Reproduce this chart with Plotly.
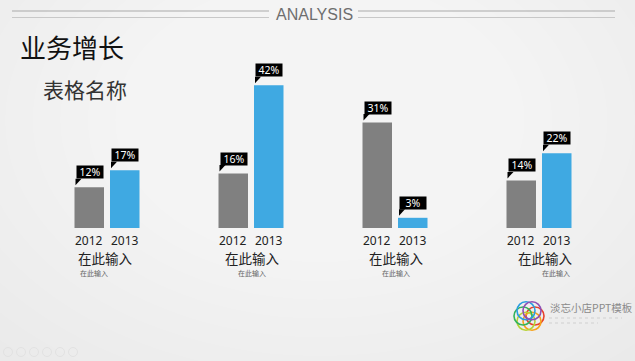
import plotly.graph_objects as go
import math

# ---------------- data ----------------
years = ["2012", "2013"]
values_2012 = [12, 16, 31, 14]
values_2013 = [17, 42, 3, 22]
group_titles = ["在此输入", "在此输入", "在此输入", "在此输入"]
group_subtitles = ["在此输入", "在此输入", "在此输入", "在此输入"]
title_main = "业务增长"
title_sub = "表格名称"
header_text = "ANALYSIS"
logo_text = "淡忘小店PPT模板"

# ---------------- layout helpers ----------------
W_FIG, H_FIG = 635, 361
L, R, T, B = 35, 24, 58, 133
PW = W_FIG - L - R
PH = H_FIG - T - B
def px(x):
    return (x - L) / PW
def py(y):
    return (H_FIG - B - y) / PH

CJK = "Microsoft YaHei, Noto Sans CJK SC, sans-serif"
LAT = "Segoe UI, Noto Sans, sans-serif"
GRAY = "#808080"
BLUE = "#3fa9e2"
SLOT = 35.5
BARW = 29.5

xs = list(range(len(values_2012)))
series = [values_2012, values_2013]
colors = [GRAY, BLUE]

fig = go.Figure()
for j, (yr, vals) in enumerate(zip(years, series)):
    fig.add_trace(go.Bar(x=xs, y=vals, name=yr, marker=dict(color=colors[j], line=dict(width=0)),
                         hoverinfo="skip"))

annotations = []
shapes = []

# background radial glow (many faint layers)
n_layers = 16
for k in range(n_layers):
    f = 1 - k / n_layers
    rx, ry = 40 + 440 * f, 30 + 300 * f
    cx, cy = 320, 120
    shapes.append(dict(type="circle", xref="paper", yref="paper", layer="below",
                       x0=px(cx - rx), x1=px(cx + rx), y0=py(cy + ry), y1=py(cy - ry),
                       fillcolor="white", opacity=0.08, line=dict(width=0)))

# header
for (x0, x1) in [(12, 269), (358, 615)]:
    shapes.append(dict(type="line", xref="paper", yref="paper", x0=px(x0), x1=px(x1), y0=py(11), y1=py(11),
                       line=dict(color="#a9a9a9", width=1.2)))
    shapes.append(dict(type="line", xref="paper", yref="paper", x0=px(x0), x1=px(x1), y0=py(17.5), y1=py(17.5),
                       line=dict(color="#c8c8c8", width=1)))
annotations.append(dict(text=header_text, xref="paper", yref="paper", x=px(314), y=py(14),
                        xanchor="center", yanchor="middle", showarrow=False,
                        font=dict(family="Liberation Sans Narrow, Arial Narrow, sans-serif", size=16, color="#6e6e6e")))

# titles
annotations.append(dict(text=title_main, xref="paper", yref="paper", x=px(18), y=py(46),
                        xanchor="left", yanchor="middle", showarrow=False,
                        font=dict(family=CJK, size=26, color="#111111")))
annotations.append(dict(text=title_sub, xref="paper", yref="paper", x=px(41), y=py(89),
                        xanchor="left", yanchor="middle", showarrow=False,
                        font=dict(family=CJK, size=21, color="#333333")))

# value labels with notch
for j, vals in enumerate(series):
    left = (j - 0.5) * SLOT - BARW / 2
    for i, v in zip(xs, vals):
        annotations.append(dict(text=f"{v}%", x=i, y=v, xref="x", yref="y",
                                xanchor="left", yanchor="bottom", xshift=left + 1, yshift=8,
                                showarrow=False, bgcolor="#000000", width=26, height=12, borderpad=0,
                                font=dict(family=LAT, size=10.5, color="white")))
        shapes.append(dict(type="path", xref="x", yref="y", xsizemode="pixel", ysizemode="pixel",
                           xanchor=i, yanchor=v,
                           path=f"M {left+1},{8.5} L {left+7},{8.5} L {left+1},{2} Z",
                           fillcolor="#000000", line=dict(width=0)))
        annotations.append(dict(text=years[j], x=i, y=0, xref="x", yref="y",
                                xanchor="center", yanchor="middle", xshift=(j - 0.5) * SLOT, yshift=-12,
                                showarrow=False, font=dict(family=LAT, size=12, color="#222222")))

# group titles
title_shift = [-2, 1, 1, 6]
sub_anchor = [("left", -29), ("center", 1), ("center", 1), ("right", 33)]
for i in xs:
    annotations.append(dict(text=group_titles[i], x=i, y=0, xref="x", yref="y",
                            xanchor="center", yanchor="middle", xshift=title_shift[i], yshift=-30,
                            showarrow=False, font=dict(family=CJK, size=13.5, color="#222222")))
    an, sh = sub_anchor[i]
    annotations.append(dict(text=group_subtitles[i], x=i, y=0, xref="x", yref="y",
                            xanchor=an, yanchor="middle", xshift=sh, yshift=-45,
                            showarrow=False, font=dict(family=CJK, size=7, color="#666666")))

# logo
logo_cols = ["#e8412c", "#f7a21b", "#b6d334", "#33b35a", "#2a9de0", "#8e4fb5"]
for k, c in enumerate(logo_cols):
    a = 2 * math.pi * k / len(logo_cols)
    cx, cy = 529 + 6 * math.cos(a), 316 + 6 * math.sin(a)
    r = 9
    shapes.append(dict(type="circle", xref="paper", yref="paper",
                       x0=px(cx - r), x1=px(cx + r), y0=py(cy + r), y1=py(cy - r),
                       line=dict(color=c, width=1.6)))
annotations.append(dict(text=logo_text, xref="paper", yref="paper", x=px(548), y=py(307),
                        xanchor="left", yanchor="middle", showarrow=False,
                        font=dict(family=CJK, size=10.5, color="#8a8a8a")))
for yy, x1 in [(318, 622), (323, 598)]:
    shapes.append(dict(type="line", xref="paper", yref="paper", x0=px(549), x1=px(x1), y0=py(yy), y1=py(yy),
                       line=dict(color="#d9d9d9", width=1.5, dash="dot")))

# faint bottom-left icons
for k in range(6):
    cx = 8 + 13 * k
    shapes.append(dict(type="circle", xref="paper", yref="paper",
                       x0=px(cx - 4.5), x1=px(cx + 4.5), y0=py(352 + 4.5), y1=py(352 - 4.5),
                       line=dict(color="#e2e2e2", width=1)))

fig.update_layout(
    width=W_FIG, height=H_FIG,
    margin=dict(l=L, r=R, t=T, b=B),
    paper_bgcolor="#e9e9e9", plot_bgcolor="rgba(0,0,0,0)",
    barmode="group", bargap=0.507, bargroupgap=0.169,
    showlegend=False,
    xaxis=dict(range=[-0.5, len(xs) - 0.5], visible=False, fixedrange=True),
    yaxis=dict(range=[0, 50], visible=False, fixedrange=True),
    annotations=annotations, shapes=shapes,
)

fig.write_html("out.html", config={"displayModeBar": False})
